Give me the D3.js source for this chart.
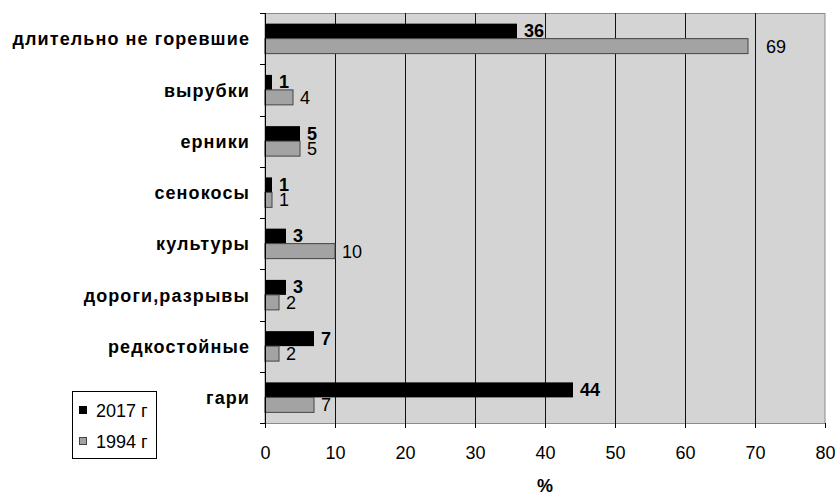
<!DOCTYPE html>
<html>
<head>
<meta charset="utf-8">
<script src="https://cdn.jsdelivr.net/npm/d3@7"></script>
<style>
  html, body { margin: 0; padding: 0; background: #fff; }
  svg { display: block; font-family: "Liberation Sans", Arial, sans-serif; }
</style>
</head>
<body>
<svg id="chart" width="835" height="496"></svg>
<script>
// Доля категорий, %
const categories = ["длительно не горевшие", "вырубки", "ерники", "сенокосы",
                    "культуры", "дороги,разрывы", "редкостойные", "гари"];
const values2017 = [36, 1, 5, 1, 3, 3, 7, 44];
const values1994 = [69, 4, 5, 1, 10, 2, 2, 7];
const seriesNames = ["2017 г", "1994 г"];
const xTicks = [0, 10, 20, 30, 40, 50, 60, 70, 80];

const svg = d3.select("#chart");
const plotLeft = 265, plotRight = 825, plotTop = 13, plotBottom = 423;

const x = d3.scaleLinear().domain([0, 80]).range([plotLeft, plotRight]);
const y = d3.scaleBand().domain(categories).range([plotTop, plotBottom]);
const sub = d3.scaleBand().domain(seriesNames).range([0, y.bandwidth()]).paddingOuter(0.71).paddingInner(0);

// plot background
svg.append("rect").attr("x", plotLeft).attr("y", plotTop + 0.5)
  .attr("width", plotRight - plotLeft).attr("height", plotBottom - plotTop)
  .attr("fill", "#d4d4d4").attr("stroke", "#8a8a8a").attr("stroke-width", 1);

// vertical grid lines
const gridValues = xTicks.filter(d => d > 0 && d < 80);
svg.append("g").selectAll("line").data(gridValues).join("line")
  .attr("x1", d => Math.round(x(d)) + 0.5).attr("x2", d => Math.round(x(d)) + 0.5)
  .attr("y1", plotTop).attr("y2", plotBottom)
  .attr("stroke", "#111").attr("stroke-width", 1);

// bars
const rows = categories.map((c, i) => ({ c, v17: values2017[i], v94: values1994[i] }));

const g = svg.append("g");
g.selectAll("rect.b17").data(rows).join("rect").attr("class", "b17")
  .attr("x", x(0)).attr("y", d => y(d.c) + sub("2017 г"))
  .attr("width", d => x(d.v17) - x(0)).attr("height", sub.bandwidth())
  .attr("fill", "#000");
g.selectAll("rect.b94").data(rows).join("rect").attr("class", "b94")
  .attr("x", x(0)).attr("y", d => y(d.c) + sub("1994 г"))
  .attr("width", d => x(d.v94) - x(0)).attr("height", sub.bandwidth())
  .attr("fill", "#a3a3a3").attr("stroke", "#444").attr("stroke-width", 1);

// a label that would start right against a grid line is moved past it
function labelX(v) {
  const end = x(v);
  const hit = gridValues.map(x).find(gx => gx - end > 1 && gx - end < 12);
  return hit !== undefined ? hit + 11 : end + 7;
}

// value labels
g.selectAll("text.l17").data(rows).join("text").attr("class", "l17")
  .attr("x", d => labelX(d.v17)).attr("y", d => y(d.c) + sub("2017 г") + sub.bandwidth() / 2 + 6)
  .attr("font-size", 18).attr("font-weight", "bold").attr("fill", "#000")
  .text(d => d.v17);
g.selectAll("text.l94").data(rows).join("text").attr("class", "l94")
  .attr("x", d => labelX(d.v94)).attr("y", d => y(d.c) + sub("1994 г") + sub.bandwidth() / 2 + 6.5)
  .attr("font-size", 18).attr("fill", "#000")
  .text(d => d.v94);

// y axis with ticks at category boundaries
const yAxis = svg.append("g");
yAxis.append("line").attr("x1", plotLeft + 0.5).attr("x2", plotLeft + 0.5)
  .attr("y1", plotTop).attr("y2", plotBottom).attr("stroke", "#000");
const bounds = categories.map(c => y(c)).concat([plotBottom]);
yAxis.selectAll("line.t").data(bounds).join("line").attr("class", "t")
  .attr("x1", plotLeft - 5).attr("x2", plotLeft)
  .attr("y1", d => Math.round(d) + 0.5).attr("y2", d => Math.round(d) + 0.5)
  .attr("stroke", "#000");
yAxis.selectAll("text").data(categories).join("text")
  .attr("x", 250).attr("y", d => y(d) + y.bandwidth() / 2 + 6.7)
  .attr("text-anchor", "end")
  .attr("font-size", 18).attr("font-weight", "bold").attr("letter-spacing", 1.1)
  .text(d => d);

// x axis
const xAxis = svg.append("g").attr("transform", `translate(0,${plotBottom})`)
  .call(d3.axisBottom(x).tickValues(xTicks).tickSize(5).tickPadding(18).tickFormat(d3.format("d")));
xAxis.select(".domain").attr("stroke", "#8a8a8a");
xAxis.selectAll(".tick line").attr("stroke", "#000");
xAxis.selectAll("text").attr("font-size", 18).attr("font-family", "Liberation Sans, Arial, sans-serif").attr("fill", "#000");

// axis title
svg.append("text").attr("x", 545).attr("y", 492).attr("text-anchor", "middle")
  .attr("font-size", 18).attr("font-weight", "bold").text("%");

// legend
const lg = svg.append("g");
lg.append("rect").attr("x", 72.5).attr("y", 391.5).attr("width", 84).attr("height", 67)
  .attr("fill", "#fff").attr("stroke", "#000");
const legendFill = ["#000", "#a3a3a3"];
seriesNames.forEach((s, i) => {
  lg.append("rect").attr("x", 79.5).attr("y", 406.5 + i * 31).attr("width", 7).attr("height", 7)
    .attr("fill", legendFill[i]).attr("stroke", i ? "#444" : "#000");
  lg.append("text").attr("x", 96).attr("y", 416.7 + i * 31.3)
    .attr("font-size", 18).text(s);
});
</script>
</body>
</html>
